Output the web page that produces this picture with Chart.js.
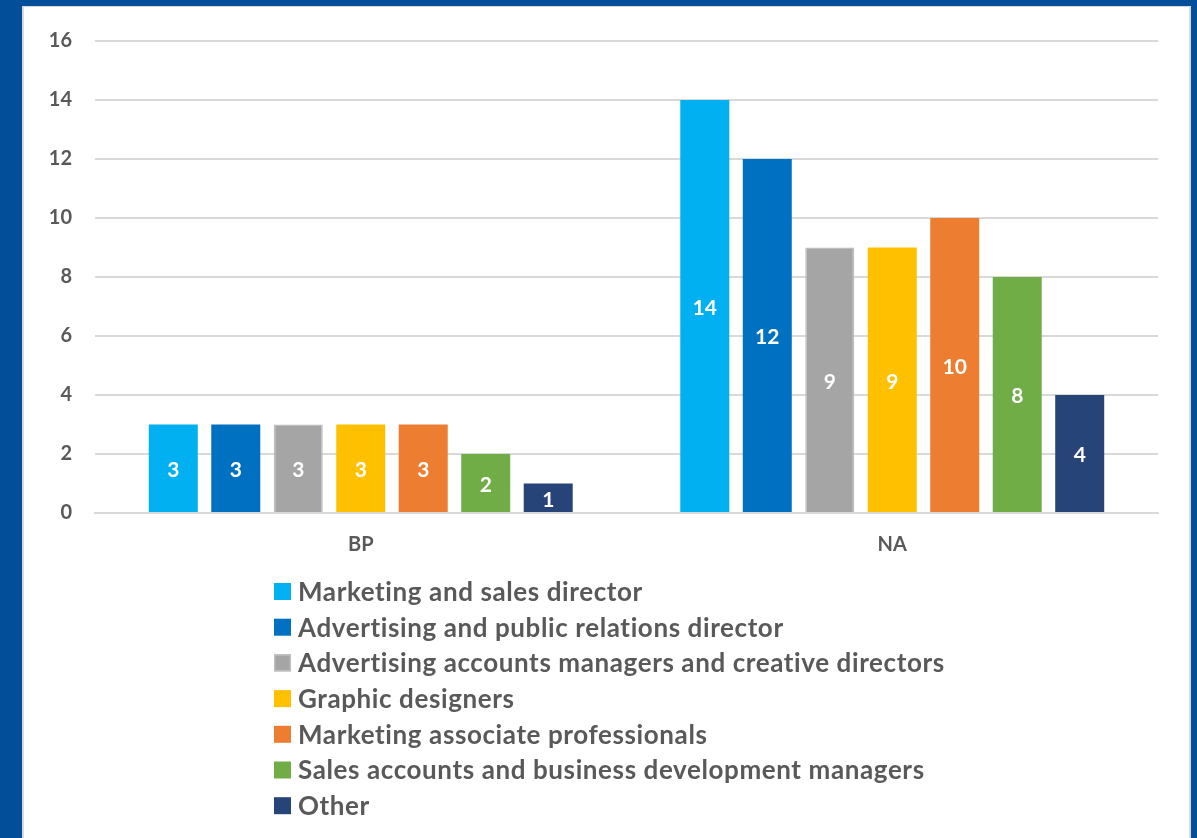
<!DOCTYPE html>
<html>
<head>
<meta charset="utf-8">
<script src="https://cdn.jsdelivr.net/npm/chart.js@4/dist/chart.umd.min.js"></script>
<style>
  html, body { margin: 0; padding: 0; }
  body { width: 1197px; height: 838px; background: #024E99; position: relative; overflow: hidden; }
  #panel { position: absolute; left: 22px; top: 6px; width: 1165px; height: 850px; background: #ffffff;
           border-left: 2px solid #D9D9D9; border-right: 2px solid #D9D9D9; border-top: 1px solid #D9D9D9; }
  #wrap { position: absolute; left: 0; top: 0; width: 1197px; height: 838px; }
</style>
</head>
<body>
<div id="panel"></div>
<div id="wrap"><canvas id="chart" width="1197" height="838"></canvas></div>
<script>
// Regions on the category axis
const categories = ['BP', 'NA'];

// Occupation groups and their counts per region
const seriesNames = [
  'Marketing and sales director',
  'Advertising and public relations director',
  'Advertising accounts managers and creative directors',
  'Graphic designers',
  'Marketing associate professionals',
  'Sales accounts and business development managers',
  'Other'
];
const marketingSalesDirector = [3, 14];
const advertisingPRDirector = [3, 12];
const accountsCreativeDirectors = [3, 9];
const graphicDesigners = [3, 9];
const marketingAssociates = [3, 10];
const salesBusinessDev = [2, 8];
const other = [1, 4];

const yTicks = [0, 2, 4, 6, 8, 10, 12, 14, 16];

const seriesValues = [
  marketingSalesDirector, advertisingPRDirector, accountsCreativeDirectors,
  graphicDesigners, marketingAssociates, salesBusinessDev, other
];
const seriesColors = ['#00B0F0', '#0070C0', '#A5A5A5', '#FFC000', '#ED7D31', '#70AD47', '#264478'];
const seriesBorders = ['#00B0F0', '#0070C0', '#BDBDBD', '#FFC000', '#ED7D31', '#70AD47', '#264478'];

const FONT = 'Lato, "Open Sans", "Liberation Sans", sans-serif';
const TEXT = '#595959';

// White value labels centred inside each bar
const barValueLabels = {
  id: 'barValueLabels',
  afterDatasetsDraw(chart) {
    const ctx = chart.ctx;
    ctx.save();
    ctx.fillStyle = '#ffffff';
    ctx.font = 'bold 21px ' + FONT;
    ctx.textAlign = 'center';
    ctx.textBaseline = 'middle';
    chart.data.datasets.forEach((ds, i) => {
      chart.getDatasetMeta(i).data.forEach((bar, j) => {
        const p = bar.getProps(['x', 'y', 'base'], true);
        ctx.fillText(String(ds.data[j]), p.x, (p.y + p.base) / 2 + 2);
      });
    });
    ctx.restore();
  }
};

// Single-column legend beneath the plot
const columnLegend = {
  id: 'columnLegend',
  afterDraw(chart) {
    const ctx = chart.ctx;
    const left = 274, top = 583, box = 17, pitch = 35.7;
    ctx.save();
    ctx.font = 'bold 26px ' + FONT;
    ctx.letterSpacing = '0.6px';
    ctx.textBaseline = 'middle';
    ctx.textAlign = 'left';
    chart.data.datasets.forEach((ds, i) => {
      const y = top + i * pitch;
      ctx.fillStyle = ds.backgroundColor;
      ctx.fillRect(left, y, box, box);
      if (ds.borderColor !== ds.backgroundColor) {
        ctx.strokeStyle = ds.borderColor;
        ctx.lineWidth = 1.5;
        ctx.strokeRect(left + 0.75, y + 0.75, box - 1.5, box - 1.5);
      }
      ctx.fillStyle = TEXT;
      ctx.fillText(ds.label, left + 24, y + box / 2 + 1);
    });
    ctx.restore();
  }
};

new Chart(document.getElementById('chart'), {
  type: 'bar',
  data: {
    labels: categories,
    datasets: seriesNames.map((name, i) => ({
      label: name,
      data: seriesValues[i],
      backgroundColor: seriesColors[i],
      borderColor: seriesBorders[i],
      borderWidth: i === 2 ? 1.5 : 0,
      categoryPercentage: 0.823,
      barPercentage: 0.784
    }))
  },
  options: {
    responsive: false,
    animation: false,
    devicePixelRatio: 1,
    layout: { padding: { left: 0, right: 39, top: 41, bottom: 265 } },
    plugins: {
      legend: { display: false },
      tooltip: { enabled: false }
    },
    scales: {
      x: {
        grid: { display: false },
        border: { display: true, color: '#D9D9D9', width: 2 },
        ticks: { color: TEXT, font: { family: FONT, size: 20, weight: 'bold' }, padding: 12 },
        afterFit(scale) { scale.height = 60; }
      },
      y: {
        min: 0,
        max: 16,
        afterBuildTicks(scale) { scale.ticks = yTicks.map(v => ({ value: v })); },
        grid: { color: '#D9D9D9', lineWidth: 2, drawTicks: false },
        border: { display: false },
        ticks: { color: TEXT, font: { family: FONT, size: 20, weight: 'bold' }, padding: 23 },
        afterFit(scale) { scale.width = 95; }
      }
    }
  },
  plugins: [barValueLabels, columnLegend]
});
</script>
</body>
</html>
